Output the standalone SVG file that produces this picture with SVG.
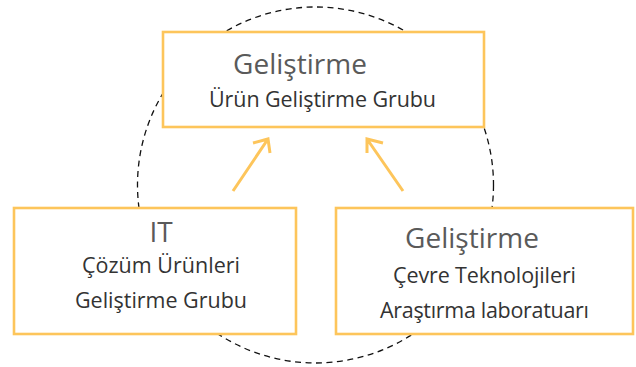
<svg xmlns="http://www.w3.org/2000/svg" width="636" height="367" viewBox="0 0 636 367">
<style>
.box{fill:#fff;stroke:#FDC55B;stroke-width:2.6}
.arr{fill:none;stroke:#FDC55B;stroke-width:3;stroke-linecap:butt}
.t{font-family:"Open Sans","Noto Sans",sans-serif;text-anchor:middle}
.h{fill:#5a5a5a;font-size:28px}
.s{fill:#333;font-size:21.5px}
</style>
<rect width="636" height="367" fill="#fff"/>
<circle cx="315.5" cy="185" r="178" fill="none" stroke="#111" stroke-width="1.3" stroke-dasharray="6 4.5"/>
<g id="connectors">
<path class="arr" d="M233,191 L268,139 M253,143 L268,139 L270,153"/>
<path class="arr" d="M403,191 L367,139 M383,143 L367,139 L367,153"/>
</g>
<g id="top">
<rect class="box" x="163" y="32" width="321" height="95"/>
<text class="t h" x="300" y="74" textLength="134">Geliştirme</text>
<text class="t s" x="322.5" y="107" textLength="227">Ürün Geliştirme Grubu</text>
</g>
<g id="left">
<rect class="box" x="14" y="208" width="282" height="126"/>
<text class="t h" x="161" y="242">IT</text>
<text class="t s" x="161" y="273" textLength="158">Çözüm Ürünleri</text>
<text class="t s" x="161" y="308" textLength="172">Geliştirme Grubu</text>
</g>
<g id="right">
<rect class="box" x="336" y="208" width="297" height="126"/>
<text class="t h" x="472" y="248" textLength="134">Geliştirme</text>
<text class="t s" x="484.5" y="283" textLength="183">Çevre Teknolojileri</text>
<text class="t s" x="484.5" y="318" textLength="209">Araştırma laboratuarı</text>
</g>
</svg>
